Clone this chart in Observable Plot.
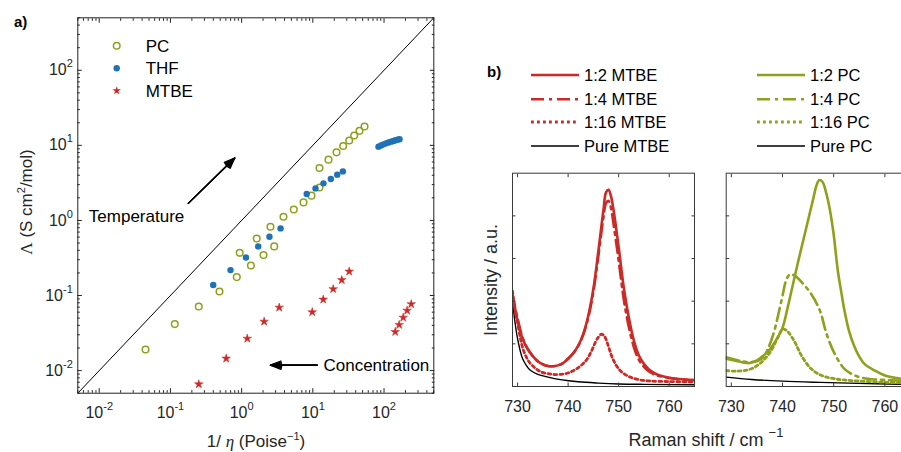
<!DOCTYPE html>
<html><head><meta charset="utf-8">
<script src="https://cdn.jsdelivr.net/npm/d3@7"></script>
<script src="https://cdn.jsdelivr.net/npm/@observablehq/plot@0.6"></script>
<style>
html,body{margin:0;padding:0;background:#fff;overflow:hidden}
#root{position:relative;width:901px;height:452px;overflow:hidden;font-family:"Liberation Sans",Arial,sans-serif;color:#262626}
#root svg{position:absolute;overflow:visible}
</style></head><body><div id="root"></div>
<script>
// ---------- Panel a data ----------
const pcX = [0.0447, 0.115, 0.25, 0.489, 0.855, 1.35, 2.03, 0.94, 2.87, 1.63, 2.54, 3.87, 5.4, 7.4, 9.58, 12.4, 12.4, 16.6, 21.5, 26.7, 32.4, 38.1, 45.2, 53.2];
const pcY = [0.0191, 0.0416, 0.0714, 0.113, 0.176, 0.251, 0.346, 0.371, 0.451, 0.575, 0.824, 1.12, 1.40, 1.74, 2.14, 2.75, 5.0, 6.45, 8.07, 9.8, 11.6, 13.5, 15.6, 17.8];
const thfX = [0.399, 0.698, 1.15, 1.71, 2.46, 3.52, 8.2, 10.9, 14.1, 17.9, 22.0, 26.4, 83.6, 90.7, 98.3, 106.6, 115.6, 125.3, 135.8, 144.9, 154.6, 165];
const thfY = [0.138, 0.218, 0.321, 0.451, 0.607, 0.783, 2.25, 2.67, 3.12, 3.57, 4.07, 4.5, 9.61, 9.98, 10.32, 10.64, 10.94, 11.21, 11.45, 11.67, 11.89, 12.1];
const mtbeX = [0.25, 0.607, 1.2, 2.07, 3.37, 9.8, 14.0, 19.3, 25.5, 32.4, 143.6, 163, 186, 211, 241];
const mtbeY = [0.00659, 0.0145, 0.0267, 0.045, 0.0692, 0.0601, 0.0885, 0.122, 0.161, 0.209, 0.0328, 0.0407, 0.0509, 0.0631, 0.0769];
const diagonal = [0.005, 500];
const decadeTicks = [0.01, 0.1, 1, 10, 100];
const annotTexts = [
  {x: 0.00714, y: 1.14, text: "Temperature"},
  {x: 14.1, y: 0.01167, text: "Concentration"}
];
const annotArrows = [
  {x1: 0.178, y1: 1.686, x2: 0.80, y2: 6.79},
  {x1: 11.5, y1: 0.0118, x2: 2.54, y2: 0.0118}
];
const legendA = ["PC", "THF", "MTBE"];

// ---------- Panel b data ----------
const ramanTicks = [730, 740, 750, 760];
const intensityTicks = [0.2, 0.4, 0.6, 0.8];
const legendB1 = ["1:2 MTBE", "1:4 MTBE", "1:16 MTBE", "Pure MTBE"];
const legendB2 = ["1:2 PC", "1:4 PC", "1:16 PC", "Pure PC"];

const mtbe12Shift = [729,730,731,732,733,734,735,736,737,738,739,740,741,742,743,744,745,746,747,747.5,748,748.5,749,750,751,752,753,754,755,756,757,758,760,762,765];
const mtbe12Int = [0.42,0.31,0.224,0.175,0.142,0.118,0.104,0.096,0.095,0.099,0.11,0.13,0.156,0.192,0.247,0.333,0.458,0.638,0.83,0.91,0.922,0.89,0.825,0.653,0.466,0.325,0.216,0.145,0.106,0.08,0.064,0.053,0.041,0.035,0.03];
const mtbe14Shift = mtbe12Shift;
const mtbe14Int = [0.43,0.32,0.228,0.177,0.143,0.118,0.104,0.096,0.095,0.099,0.11,0.13,0.155,0.19,0.243,0.325,0.445,0.615,0.795,0.86,0.87,0.835,0.76,0.59,0.41,0.28,0.185,0.125,0.092,0.07,0.057,0.049,0.04,0.034,0.029];
const mtbe116Shift = [729,729.5,730,730.7,731.3,732.3,733.3,734.5,736,737.5,739.2,740.5,741.8,743,743.8,744.7,745.4,746,746.6,747.2,747.7,748.2,748.7,749.5,750.3,751.3,752.3,754,756,760,765];
const mtbe116Int = [0.447,0.36,0.30,0.21,0.161,0.115,0.09,0.07,0.06,0.056,0.059,0.068,0.085,0.108,0.13,0.17,0.208,0.232,0.245,0.235,0.208,0.172,0.1375,0.1,0.075,0.056,0.044,0.032,0.026,0.023,0.021];
const mtbePureShift = [729,729.5,730,730.5,731,732,732.6,734,736,738.5,742,746,750,755,765];
const mtbePureInt = [0.40,0.30,0.224,0.17,0.13,0.09,0.075,0.057,0.044,0.032,0.022,0.016,0.012,0.01,0.008];

const pc12Shift = [729,731,732.5,733.6,735,736,737,738,739,740,741,742,743,744,745,746,746.6,747.2,747.8,748.4,749,749.9,750.8,751.5,752.1,753,754.1,755,756,758,760,763,765];
const pc12Int = [0.13,0.12,0.112,0.11,0.122,0.14,0.16,0.19,0.228,0.275,0.37,0.475,0.58,0.68,0.78,0.88,0.94,0.968,0.96,0.92,0.86,0.73,0.544,0.44,0.356,0.26,0.184,0.14,0.106,0.075,0.052,0.037,0.032];
const pc14Shift = [729,731.5,733.9,735.9,737.8,739.8,740.7,741.4,742.4,743.7,745.6,747.3,748.6,750.2,752.1,754.1,756.7,759.9,765];
const pc14Int = [0.1375,0.122,0.114,0.13,0.216,0.403,0.497,0.525,0.52,0.49,0.434,0.356,0.247,0.153,0.083,0.052,0.036,0.031,0.025];
const pc116Shift = [729,731.3,733.9,735.9,737.8,739.1,740.1,741.1,742.4,743.7,745.6,747.6,750.2,753.4,759.9,765];
const pc116Int = [0.075,0.072,0.083,0.114,0.169,0.231,0.27,0.255,0.208,0.145,0.083,0.052,0.036,0.028,0.02,0.016];
const pcPureShift = [729,734,740,746,753,765];
const pcPureInt = [0.044,0.033,0.025,0.02,0.016,0.009];

// ---------- styles ----------
const GREEN = "#8fa11b", BLUE = "#1f72b6", RED = "#cc2a27", INK = "#262626";
const FONT = "Liberation Sans, Arial, Helvetica, sans-serif";
const DASHDOT = "13,5,3,5", DOTTED = "2.8,3.2";

const root = document.getElementById("root");
const rows = (xs, ys) => xs.map((x, i) => ({x, y: ys[i]}));
const minorLog = [];
for (let e = -3; e <= 2; e++) for (let k = 2; k <= 9; k++) { const v = k * 10 ** e; if (v >= 0.005 && v <= 500) minorLog.push(+v.toPrecision(3)); }
const fmtPow = d => "10^" + Math.round(Math.log10(d));

function place(svg, left, top) { svg.style.left = left + "px"; svg.style.top = top + "px"; root.appendChild(svg); return svg; }

function superscriptTicks(svg) {
  const ns = "http://www.w3.org/2000/svg";
  svg.querySelectorAll('g[aria-label$="tick label"] text').forEach(t => {
    const s = t.textContent;
    if (!s.includes("^")) return;
    const [base, exp] = s.split("^");
    t.textContent = "";
    const a = document.createElementNS(ns, "tspan"); a.textContent = base; t.appendChild(a);
    const b = document.createElementNS(ns, "tspan"); b.textContent = exp;
    b.setAttribute("dy", "-8"); b.setAttribute("font-size", "11px"); t.appendChild(b);
  });
}

// ---------- Panel a ----------
const headAngles = [14, 24, 34, 44];
const pa = Plot.plot({
  width: 450, height: 452,
  marginLeft: 77.3, marginRight: 16.7, marginTop: 17.3, marginBottom: 59.3,
  style: {fontFamily: FONT, fontSize: "16px", color: INK, background: "transparent"},
  x: {type: "log", domain: [0.005, 500], axis: null},
  y: {type: "log", domain: [0.005, 500], axis: null},
  marks: [
    Plot.line(diagonal, {x: d => d, y: d => d, stroke: "#000", strokeWidth: 1, clip: true}),
    Plot.dot(rows(pcX, pcY), {x: "x", y: "y", r: 3.3, stroke: GREEN, strokeWidth: 1.5, fill: "none"}),
    Plot.dot(rows(thfX, thfY), {x: "x", y: "y", r: 3.2, fill: BLUE, stroke: "none"}),
    Plot.dot(rows(mtbeX, mtbeY), {x: "x", y: "y", r: 2.7, symbol: "star", fill: RED, stroke: RED, strokeWidth: 0.5}),
    ...headAngles.map(a => Plot.arrow(annotArrows, {x1: "x1", y1: "y1", x2: "x2", y2: "y2", stroke: "#000", strokeWidth: 1.3, headLength: 13, headAngle: a})),
    Plot.text(annotTexts, {x: "x", y: "y", text: "text", textAnchor: "start", fontSize: 17, fill: "#000"}),
    Plot.frame({stroke: "#222", strokeWidth: 1}),
    Plot.axisX(decadeTicks, {anchor: "bottom", tickSize: 0, tickPadding: 13, tickFormat: fmtPow, label: null, fill: INK}),
    Plot.axisY(decadeTicks, {anchor: "left", tickSize: 0, tickPadding: 5, tickFormat: fmtPow, label: null, fill: INK}),
    Plot.axisX(decadeTicks, {anchor: "bottom", tickSize: -4.5, fill: "none", stroke: "#222", label: null}),
    Plot.axisX(decadeTicks, {anchor: "top", tickSize: -4.5, fill: "none", stroke: "#222", label: null}),
    Plot.axisY(decadeTicks, {anchor: "left", tickSize: -4.5, fill: "none", stroke: "#222", label: null}),
    Plot.axisY(decadeTicks, {anchor: "right", tickSize: -4.5, fill: "none", stroke: "#222", label: null}),
    Plot.axisX(minorLog, {anchor: "bottom", tickSize: -2.5, fill: "none", stroke: "#222", label: null}),
    Plot.axisX(minorLog, {anchor: "top", tickSize: -2.5, fill: "none", stroke: "#222", label: null}),
    Plot.axisY(minorLog, {anchor: "left", tickSize: -2.5, fill: "none", stroke: "#222", label: null}),
    Plot.axisY(minorLog, {anchor: "right", tickSize: -2.5, fill: "none", stroke: "#222", label: null})
  ]
});
superscriptTicks(pa);
place(pa, 0, 0);

// ---------- Panel b ----------
function ramanPlot(series, left, width, marginLeft, marginRight) {
  const svg = Plot.plot({
    width, height: 292, marginLeft, marginRight, marginTop: 12.7, marginBottom: 66,
    style: {fontFamily: FONT, fontSize: "16px", color: INK, background: "transparent"},
    x: {domain: [729, 765], axis: null},
    y: {domain: [0, 1], axis: null},
    marks: [
      ...series.map(s => Plot.line(rows(s.shift, s.int), {x: "x", y: "y", stroke: s.color, strokeWidth: s.w, strokeDasharray: s.dash, curve: "catmull-rom", clip: true})),
      Plot.frame({stroke: "#3a3a3a", strokeWidth: 1}),
      Plot.axisX(ramanTicks, {anchor: "bottom", tickSize: 0, tickPadding: 14, label: null, fill: INK}),
      Plot.axisX(ramanTicks, {anchor: "bottom", tickSize: -3.5, fill: "none", stroke: "#3a3a3a", label: null}),
      Plot.axisX(ramanTicks, {anchor: "top", tickSize: -3.5, fill: "none", stroke: "#3a3a3a", label: null}),
      Plot.axisY(intensityTicks, {anchor: "left", tickSize: -3.5, fill: "none", stroke: "#3a3a3a", label: null}),
      Plot.axisY(intensityTicks, {anchor: "right", tickSize: -3.5, fill: "none", stroke: "#3a3a3a", label: null})
    ]
  });
  return place(svg, left, 160);
}
ramanPlot([
  {shift: mtbePureShift, int: mtbePureInt, color: "#000", w: 1.4, dash: null},
  {shift: mtbe116Shift, int: mtbe116Int, color: RED, w: 2.8, dash: DOTTED},
  {shift: mtbe14Shift, int: mtbe14Int, color: RED, w: 2.6, dash: DASHDOT},
  {shift: mtbe12Shift, int: mtbe12Int, color: RED, w: 2.6, dash: null}
], 470, 240, 42, 16);
ramanPlot([
  {shift: pcPureShift, int: pcPureInt, color: "#000", w: 1.4, dash: null},
  {shift: pc116Shift, int: pc116Int, color: GREEN, w: 2.8, dash: DOTTED},
  {shift: pc14Shift, int: pc14Int, color: GREEN, w: 2.6, dash: DASHDOT},
  {shift: pc12Shift, int: pc12Int, color: GREEN, w: 2.6, dash: null}
], 700, 240, 25.7, 30);

// ---------- Overlay: titles, axis labels, legends ----------
const ov = d3.create("svg").attr("width", 901).attr("height", 452)
  .attr("font-family", FONT).attr("fill", INK).style("pointer-events", "none");
ov.append("text").attr("x", 14).attr("y", 27).attr("font-weight", "bold").attr("font-size", 15).attr("fill", "#000").text("a)");
ov.append("text").attr("x", 487).attr("y", 77).attr("font-weight", "bold").attr("font-size", 15).attr("fill", "#000").text("b)");

const yt = ov.append("text").attr("transform", "translate(31.5,202) rotate(-90)").attr("text-anchor", "middle").attr("font-size", 17);
yt.append("tspan").attr("font-family", "Liberation Serif, serif").text("Λ");
yt.append("tspan").text(" (S cm");
yt.append("tspan").attr("dy", -7).attr("font-size", 11).text("2");
yt.append("tspan").attr("dy", 7).text("/mol)");

const xt = ov.append("text").attr("x", 256).attr("y", 447).attr("text-anchor", "middle").attr("font-size", 17);
xt.append("tspan").text("1/ ");
xt.append("tspan").attr("font-family", "Liberation Serif, serif").attr("font-style", "italic").text("η");
xt.append("tspan").text(" (Poise");
xt.append("tspan").attr("dy", -7).attr("font-size", 11).text("−1");
xt.append("tspan").attr("dy", 7).text(")");

ov.append("text").attr("transform", "translate(496.5,280) rotate(-90)").attr("text-anchor", "middle").attr("font-size", 18).text("Intensity / a.u.");
const rt = ov.append("text").attr("x", 706).attr("y", 446).attr("text-anchor", "middle").attr("font-size", 18);
rt.append("tspan").text("Raman shift / cm ");
rt.append("tspan").attr("dy", -9).attr("font-size", 13).text("−1");

// legend a
const legA = [
  {name: legendA[0], y: 45.7, kind: "circle"},
  {name: legendA[1], y: 68.3, kind: "dot"},
  {name: legendA[2], y: 90.7, kind: "star"}
];
legA.forEach(d => {
  if (d.kind === "circle") ov.append("circle").attr("cx", 116.7).attr("cy", d.y).attr("r", 3.3).attr("fill", "none").attr("stroke", GREEN).attr("stroke-width", 1.5);
  if (d.kind === "dot") ov.append("circle").attr("cx", 116.7).attr("cy", d.y).attr("r", 3.2).attr("fill", BLUE);
  if (d.kind === "star") ov.append("path").attr("transform", `translate(116.7,${d.y})`).attr("d", d3.symbol(d3.symbolStar, 2.7 * 2.7 * Math.PI)()).attr("fill", RED);
  ov.append("text").attr("x", 145.7).attr("y", d.y).attr("dy", "0.35em").attr("font-size", 17).attr("fill", "#000").text(d.name);
});

// legend b
const rowsB = [75, 99.3, 122, 146];
const stylesB = [{dash: null, w: 2.6}, {dash: DASHDOT, w: 2.6}, {dash: DOTTED, w: 2.8}, {dash: null, w: 1.4}];
[[legendB1, RED, 531, 579, 584], [legendB2, GREEN, 757, 805, 810]].forEach(([names, col, x1, x2, tx]) => {
  names.forEach((n, i) => {
    ov.append("line").attr("x1", x1).attr("x2", x2).attr("y1", rowsB[i]).attr("y2", rowsB[i])
      .attr("stroke", i === 3 ? "#000" : col).attr("stroke-width", stylesB[i].w)
      .attr("stroke-dasharray", stylesB[i].dash);
    ov.append("text").attr("x", tx).attr("y", rowsB[i]).attr("dy", "0.35em").attr("font-size", 16.5).attr("fill", "#000").text(n);
  });
});
place(ov.node(), 0, 0);
</script>
</body></html>
